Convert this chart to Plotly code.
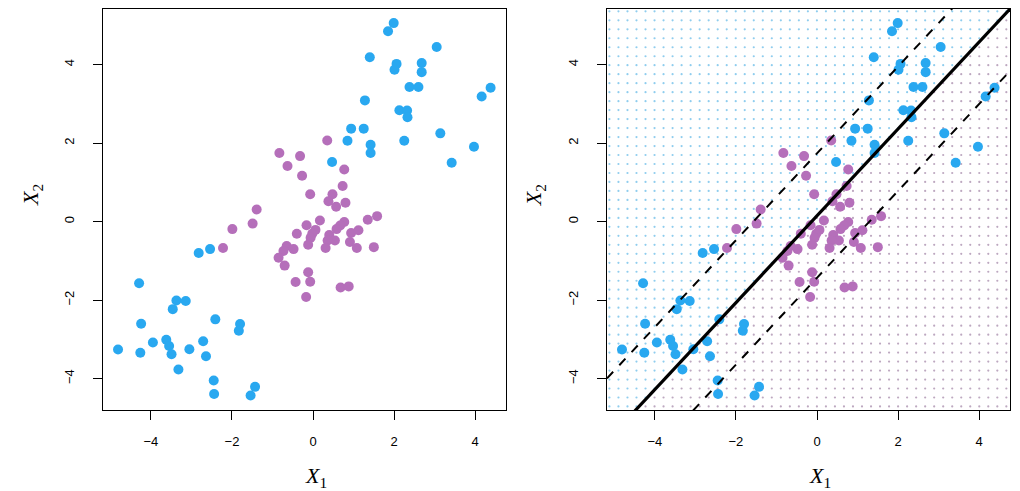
import numpy as np
import plotly.graph_objects as go

blue_x1 = [1.99, 1.85, 1.40, 3.05, 2.06, 2.01, 2.68, 2.68, 2.38, 2.60, 4.38, 4.16, 1.28,
           2.13, 2.32, 2.33, 0.94, 1.25, 3.14, 0.85, 2.25, 1.42, 3.97, 1.42, 0.47, 3.42,
           -2.82, -2.54, -4.29, -3.37, -3.14, -3.46, -4.24, -2.41, -1.80, -1.83, -3.62,
           -3.95, -3.55, -2.71, -4.81, -4.26, -3.49, -3.05, -2.64, -3.32, -2.45, -2.44,
           -1.43, -1.54]
blue_x2 = [5.06, 4.85, 4.19, 4.45, 4.02, 3.87, 4.04, 3.81, 3.43, 3.43, 3.41, 3.19, 3.09,
           2.84, 2.83, 2.66, 2.37, 2.37, 2.25, 2.06, 2.06, 1.96, 1.91, 1.75, 1.52, 1.50,
           -0.80, -0.70, -1.57, -2.01, -2.02, -2.23, -2.60, -2.49, -2.61, -2.78, -3.01,
           -3.08, -3.17, -3.05, -3.26, -3.34, -3.38, -3.25, -3.43, -3.77, -4.05, -4.39,
           -4.21, -4.43]
purple_x1 = [0.35, -0.83, -0.32, -0.63, 0.77, -0.27, 0.73, -0.07, 0.48, 0.38, 0.80, 0.57,
             -1.39, -1.49, -1.99, -2.22, 0.17, -0.16, -0.40, 0.06, -0.02, -0.06, -0.12,
             0.77, 0.67, 0.58, 1.35, 1.58, 0.94, 1.12, 0.40, 0.54, 0.36, 0.31, 0.91, 1.08,
             1.50, -0.65, -0.48, -0.73, -0.85, -0.70, -0.12, -0.43, -0.07, 0.68, 0.88, -0.17]
purple_x2 = [2.07, 1.75, 1.67, 1.42, 1.33, 1.17, 0.91, 0.70, 0.70, 0.52, 0.48, 0.38,
             0.31, -0.05, -0.19, -0.67, 0.03, -0.09, -0.31, -0.21, -0.31, -0.41, -0.59,
             -0.01, -0.10, -0.19, 0.05, 0.14, -0.29, -0.22, -0.34, -0.48, -0.48, -0.67,
             -0.52, -0.67, -0.65, -0.62, -0.70, -0.75, -0.92, -1.12, -1.29, -1.54, -1.53,
             -1.68, -1.65, -1.92]

# fitted linear boundary and its margins: x2 = b + slope * x1
slope = 1.107
b_hyper = 0.15
b_upper = 1.74
b_lower = -1.43

BLUE = "#29a8f0"
PURPLE = "#b56fba"
xr = [-5.18, 4.76]
yr = [-4.80, 5.42]

fig = go.Figure()

# left panel
fig.add_scatter(x=blue_x1, y=blue_x2, mode="markers", marker=dict(color=BLUE, size=10),
                xaxis="x", yaxis="y", showlegend=False)
fig.add_scatter(x=purple_x1, y=purple_x2, mode="markers", marker=dict(color=PURPLE, size=10),
                xaxis="x", yaxis="y", showlegend=False)

# right panel: lattice of classified grid points
gx, gy = np.meshgrid(np.linspace(-5.12, 4.67, 45), np.linspace(-4.71, 5.36, 45))
gx, gy = gx.ravel(), gy.ravel()
above = gy > b_hyper + slope * gx
fig.add_scatter(x=gx[above], y=gy[above], mode="markers",
                marker=dict(color="#8fcdee", size=2.2), xaxis="x2", yaxis="y2",
                showlegend=False, hoverinfo="skip")
fig.add_scatter(x=gx[~above], y=gy[~above], mode="markers",
                marker=dict(color="#bda8c0", size=2.2), xaxis="x2", yaxis="y2",
                showlegend=False, hoverinfo="skip")

fig.add_scatter(x=blue_x1, y=blue_x2, mode="markers", marker=dict(color=BLUE, size=10),
                xaxis="x2", yaxis="y2", showlegend=False)
fig.add_scatter(x=purple_x1, y=purple_x2, mode="markers", marker=dict(color=PURPLE, size=10),
                xaxis="x2", yaxis="y2", showlegend=False)

for b, dash, w in [(b_upper, "dash", 2), (b_lower, "dash", 2), (b_hyper, "solid", 3.2)]:
    fig.add_scatter(x=xr, y=[b + slope * xr[0], b + slope * xr[1]], mode="lines",
                    line=dict(color="black", width=w, dash=dash),
                    xaxis="x2", yaxis="y2", showlegend=False, hoverinfo="skip")

tickfont = dict(family="Liberation Sans, Arial", size=13, color="black")
ax_common = dict(showgrid=False, zeroline=False, showline=True, linecolor="black",
                 linewidth=1.2, mirror=True, ticks="outside", ticklen=9, tickwidth=1,
                 tickcolor="black", tickfont=tickfont, tickvals=[-4, -2, 0, 2, 4],
                 ticktext=["\u22124", "\u22122", "0", "2", "4"], ticklabelstandoff=10)

# the page body adds an 8px offset, so the figure is 1012x483
fig.update_layout(
    width=1012, height=483,
    margin=dict(l=0, r=0, t=0, b=0),
    paper_bgcolor="white", plot_bgcolor="white",
    xaxis=dict(ax_common, domain=[0.0939, 0.4921], range=xr, anchor="y"),
    yaxis=dict(ax_common, domain=[0.1677, 0.998], range=yr, anchor="x", tickangle=-90,
               ticklabelstandoff=14),
    xaxis2=dict(ax_common, domain=[0.5919, 0.9901], range=xr, anchor="y2"),
    yaxis2=dict(ax_common, domain=[0.1677, 0.998], range=yr, anchor="x2", tickangle=-90,
                ticklabelstandoff=14),
)

titlefont = dict(family="Liberation Serif, Times New Roman", size=22, color="black")
for xc, yc, txt, ang in [(0.304, 0.028, "<i>X</i><sub>1</sub>", 0),
                         (0.802, 0.028, "<i>X</i><sub>1</sub>", 0),
                         (0.0237, 0.613, "<i>X</i><sub>2</sub>", -90),
                         (0.521, 0.613, "<i>X</i><sub>2</sub>", -90)]:
    fig.add_annotation(x=xc, y=yc, xref="paper", yref="paper", text=txt, showarrow=False,
                       textangle=ang, font=titlefont, xanchor="center", yanchor="middle")

fig.write_html("out.html")
